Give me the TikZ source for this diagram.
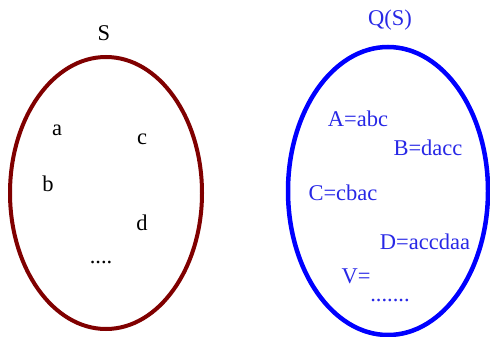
\documentclass[tikz,border=0pt]{standalone}
\usepackage{fontspec}
\setmainfont{Liberation Serif}
\definecolor{setred}{RGB}{128,0,0}
\definecolor{setblue}{RGB}{0,0,255}
\definecolor{txtblue}{RGB}{40,40,230}
\begin{document}
\begin{tikzpicture}[x=1pt,y=-1pt,
  elem/.style={font=\fontsize{22.5}{26}\selectfont, inner sep=0pt, anchor=center},
  qelem/.style={elem, text=txtblue}]
\useasboundingbox (0,0) rectangle (490,337);
\begin{scope}
\clip (0,0) rectangle (490,337);
\draw[setred, line width=4pt] (106,193) ellipse [x radius=96, y radius=136];
\draw[setblue, line width=4.5pt] (388,191) ellipse [x radius=100, y radius=144];
\end{scope}
\node[elem] (S) at (104,33) {S};
\node[elem] (a) at (57,130) {a};
\node[elem] (c) at (142,139) {c};
\node[elem] (b) at (48,184) {b};
\node[elem] (d) at (142,223) {d};
\node[elem] (dots) at (101,262) {....};
\node[qelem] (QS) at (390,20) {Q(S)};
\node[qelem] (A) at (358,119) {A=abc};
\node[qelem] (B) at (428,148) {B=dacc};
\node[qelem] (C) at (343,193) {C=cbac};
\node[qelem] (D) at (425,242) {D=accdaa};
\node[qelem] (V) at (356,276) {V=};
\node[qelem] (qdots) at (390,300) {.......};
\end{tikzpicture}
\end{document}
